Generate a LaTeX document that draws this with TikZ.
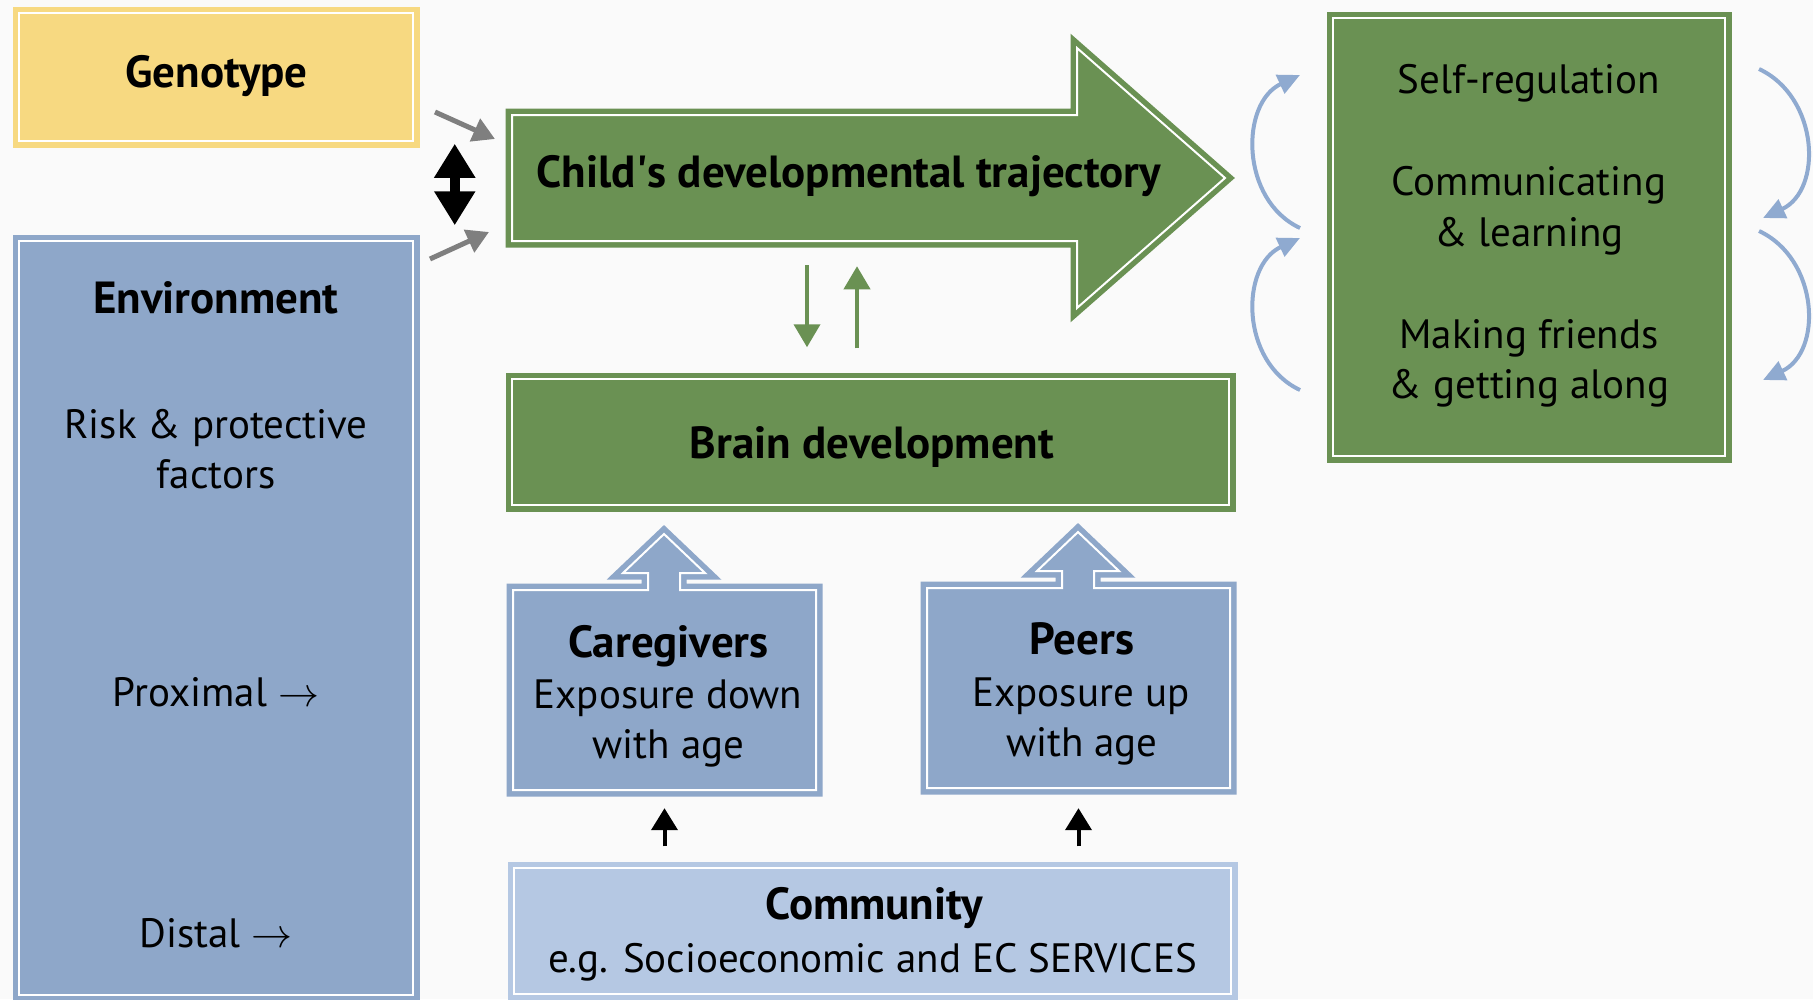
\RequirePackage{fix-cm}
\documentclass[tikz,border=0pt]{standalone}
\usepackage{fontspec}
\setmainfont{PT Sans}
\usetikzlibrary{arrows.meta,calc}
\definecolor{genoyellow}{HTML}{F7D981}
\definecolor{envblue}{HTML}{8EA7C9}
\definecolor{commblue}{HTML}{B5C8E3}
\definecolor{devgreen}{HTML}{6A9153}
\definecolor{linkgrey}{HTML}{7F7F7F}
\definecolor{loopblue}{HTML}{8FAAD0}
\definecolor{paper}{HTML}{FAFAFA}
\tikzset{
  panel/.style={fill=#1, draw=#1, double=white, double distance=2pt, line width=5.5pt},
  boxnode/.style={panel=#1, inner sep=0pt},
  txt/.style={anchor=base, inner sep=0pt, font=\fontsize{41}{48}\selectfont},
  hdr/.style={anchor=base, inner sep=0pt, font=\fontsize{45}{52}\selectfont\bfseries},
  greylink/.style={draw=linkgrey, line width=5pt, -{Triangle[length=22pt,width=24pt]}},
  mutual/.style={draw=black, line width=10pt, {Triangle[length=34pt,width=39pt]}-{Triangle[length=34pt,width=39pt]}},
  devlink/.style={draw=devgreen, line width=4pt, -{Triangle[length=23pt,width=26pt]}},
  uplink/.style={draw=black, line width=4pt, -{Triangle[length=22pt,width=26pt]}},
  looplink/.style={draw=loopblue, line width=4pt, -{Triangle[length=22pt,width=20pt]}}
}
\begin{document}
\begin{tikzpicture}[x=1pt,y=-1pt]
      \fill[paper] (0,0) rectangle (1813,999);
      \useasboundingbox (0,0) rectangle (1813,999);
      \node[boxnode=genoyellow, minimum width=394pt, minimum height=128pt] (geno) at (216,77) {};
      \node[boxnode=envblue, minimum width=394pt, minimum height=754pt] (env) at (216,618) {};
      \node[boxnode=devgreen, minimum width=717pt, minimum height=126pt] (brain) at (870.5,442) {};
      \node[boxnode=commblue, minimum width=717pt, minimum height=126pt] (comm) at (872.5,931) {};
      \node[boxnode=devgreen, minimum width=392pt, minimum height=438pt] (outcome) at (1529,237) {};
      \draw[panel=devgreen] (512,115) -- (1077,115) -- (1077,48) -- (1225,178)
        -- (1077,308) -- (1077,241) -- (512,241) -- cycle;
      \draw[panel=envblue] (513,790) -- (513,590) -- (648,590) -- (648,573) -- (623,573)
        -- (664,534) -- (705,573) -- (680,573) -- (680,590) -- (816,590) -- (816,790) -- cycle;
      \draw[panel=envblue] (927,788) -- (927,588) -- (1062,588) -- (1062,571) -- (1037,571)
        -- (1078,532) -- (1119,571) -- (1094,571) -- (1094,588) -- (1230,588) -- (1230,788) -- cycle;
      \node[minimum width=303pt, minimum height=200pt, inner sep=0pt] (care) at (664.5,690) {};
      \node[minimum width=303pt, minimum height=200pt, inner sep=0pt] (peers) at (1078.5,688) {};
      \node[hdr] (genotitle) at (216.5,87) {Genotype};
      \node[hdr] (envtitle) at (216,313) {Environment};
      \node[txt] (risk) at (216,438) {Risk \& protective};
      \node[txt] (factors) at (216,488) {factors};
      \node[txt] (proximal) at (216,706) {Proximal $\rightarrow$};
      \node[txt] (distal) at (216,947) {Distal $\rightarrow$};
      \node[hdr] (traj) at (849,187) {Child\textquotesingle s developmental trajectory};
      \node[hdr] (braintitle) at (872,458) {Brain development};
      \node[hdr] (caretitle) at (668.5,657) {Caregivers};
      \node[txt] (care1) at (668,708) {Exposure down};
      \node[txt] (care2) at (668.5,758) {with age};
      \node[hdr] (peertitle) at (1082,654) {Peers};
      \node[txt] (peer1) at (1081,706) {Exposure up};
      \node[txt] (peer2) at (1082,756) {with age};
      \node[hdr] (commtitle) at (874,919) {Community};
      \node[txt] (comm1) at (872.5,972) {e.g. Socioeconomic and EC SERVICES};
      \node[txt] (selfreg) at (1529,93) {Self-regulation};
      \node[txt] (commun) at (1529,195) {Communicating};
      \node[txt] (commun2) at (1529,246) {\& learning};
      \node[txt] (friends) at (1529,348) {Making friends};
      \node[txt] (friends2) at (1529,398) {\& getting along};
      \coordinate (genoout) at (435,112);
      \coordinate (genoin) at (495,139);
      \coordinate (envout) at (430,259);
      \coordinate (envin) at (489,232);
      \coordinate (la1) at (1300,228);
      \coordinate (la2) at (1300,75);
      \coordinate (lb1) at (1300,390);
      \coordinate (lb2) at (1300,238);
      \coordinate (ra1) at (1759,69);
      \coordinate (ra2) at (1763,218);
      \coordinate (rb1) at (1759,231);
      \coordinate (rb2) at (1763,380);
      \begin{scope}
        \draw[greylink] (genoout) -- (genoin);
        \draw[greylink] (envout) -- (envin);
        \draw[mutual, shorten >=13pt] ($(geno.south east)+(39,0)$) -- ($(env.north east)+(39,0)$);
        \draw[devlink] ($(brain.north)+(-63.5,-111)$) -- ($(brain.north)+(-63.5,-29)$);
        \draw[devlink] ($(brain.north)+(-13.5,-28)$) -- ($(brain.north)+(-13.5,-110)$);
        \draw[uplink, shorten <=19pt, shorten >=18pt] (care.south |- comm.north) -- (care.south);
        \draw[uplink, shorten <=19pt, shorten >=20pt] (peers.south |- comm.north) -- (peers.south);
        \draw[looplink] (la1) .. controls ($(la1)+(-60,-28)$) and ($(la2)+(-60,28)$) .. (la2);
        \draw[looplink] (lb1) .. controls ($(lb1)+(-60,-28)$) and ($(lb2)+(-60,28)$) .. (lb2);
        \draw[looplink] (ra1) .. controls ($(ra1)+(60,28)$) and ($(ra2)+(60,-28)$) .. (ra2);
        \draw[looplink] (rb1) .. controls ($(rb1)+(60,28)$) and ($(rb2)+(60,-28)$) .. (rb2);
      \end{scope}
\end{tikzpicture}
\end{document}
